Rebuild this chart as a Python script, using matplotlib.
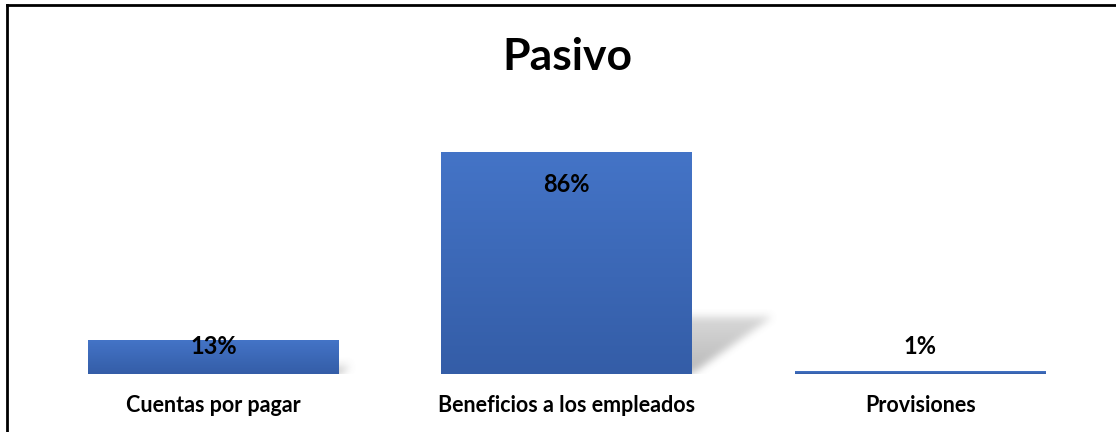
import numpy as np
import matplotlib
matplotlib.use("Agg")
import matplotlib.pyplot as plt
from matplotlib.lines import Line2D

# Data
categories = ["Cuentas por pagar", "Beneficios a los empleados", "Provisiones"]
values = [13, 86, 1]
labels = ["13%", "86%", "1%"]
title = "Pasivo"

plt.rcParams['font.family'] = ['Lato', 'DejaVu Sans']

fig = plt.figure(figsize=(11.16, 4.32), dpi=100)
ax = fig.add_axes([36.75 / 1116, 58 / 432, 1060 / 1116, 258 / 432])
ax.set_xlim(-0.5, 2.5)
ax.set_ylim(0, 100)
ax.axis("off")

bar_w = 0.71
top_rgb = np.array([68, 116, 199]) / 255
bot_rgb = np.array([52, 93, 167]) / 255


def blur(a, n):
    k = np.ones(n) / n
    a = np.apply_along_axis(lambda r: np.convolve(r, k, mode="same"), 1, a)
    a = np.apply_along_axis(lambda c: np.convolve(c, k, mode="same"), 0, a)
    return a


# soft perspective shadows behind bars
for i, v in enumerate(values):
    h = v * 0.26
    dx = 0.23 * v / 86
    x0, x1 = i - bar_w / 2 + 0.05, i + bar_w / 2
    xa, xb = x0 - 0.05, x1 + dx + 0.08
    ya, yb = -3, h + 6
    nx, ny = int((xb - xa) * 353), int((yb - ya) * 2.58)
    xs = np.linspace(xa, xb, nx)
    ys = np.linspace(yb, ya, ny)
    X, Y = np.meshgrid(xs, ys)
    t = np.clip(Y / max(h, 1e-6), 0, None)
    inside = (Y >= 0) & (Y <= h) & (X >= x0 + dx * t) & (X <= x1 + dx * t)
    m = blur(blur(inside.astype(float), 9), 9)
    m *= 1 - 0.45 * np.clip(Y / max(h, 1e-6), 0, 1)
    rgba = np.zeros((ny, nx, 4))
    rgba[..., :3] = 0.45
    rgba[..., 3] = m * 0.5
    ax.imshow(rgba, extent=[xa, xb, ya, yb], aspect="auto", origin="upper",
              zorder=1, interpolation="bilinear")

bars = ax.bar(range(len(values)), values, width=bar_w, color="none", zorder=2)
grad = np.linspace(0, 1, 256)[:, None]
img = top_rgb[None, None, :] * (1 - grad[..., None]) + bot_rgb[None, None, :] * grad[..., None]
for b in bars:
    x, y = b.get_x(), b.get_y()
    w, hh = b.get_width(), b.get_height()
    im = ax.imshow(img, extent=[x, x + w, y, y + hh], aspect="auto",
                   origin="upper", zorder=2)
    im.set_clip_path(b)
    b.set_edgecolor("none")

ax.set_xlim(-0.5, 2.5)
ax.set_ylim(0, 100)

for i, (v, lab) in enumerate(zip(values, labels)):
    ax.text(i, max(v - 12.4, 10.5), lab, ha="center", va="center",
            fontsize=17, fontweight="bold", color="black", zorder=3)

for i, c in enumerate(categories):
    fig.text((36.75 + 176.75 + i * 353.5) / 1116, 1 - 405 / 432, c,
             ha="center", va="center", fontsize=15.5, fontweight="bold")

fig.text(567 / 1116, 1 - 57 / 432, title, ha="center", va="center",
         fontsize=32, fontweight="bold")

# chart border (only top and left visible in the crop)
fig.add_artist(Line2D([6.5 / 1116, 1], [1 - 5 / 432, 1 - 5 / 432],
                      transform=fig.transFigure, color="black", lw=2))
fig.add_artist(Line2D([7 / 1116, 7 / 1116], [0, 1 - 5 / 432],
                      transform=fig.transFigure, color="black", lw=2))

fig.savefig("out.png", dpi=100)
